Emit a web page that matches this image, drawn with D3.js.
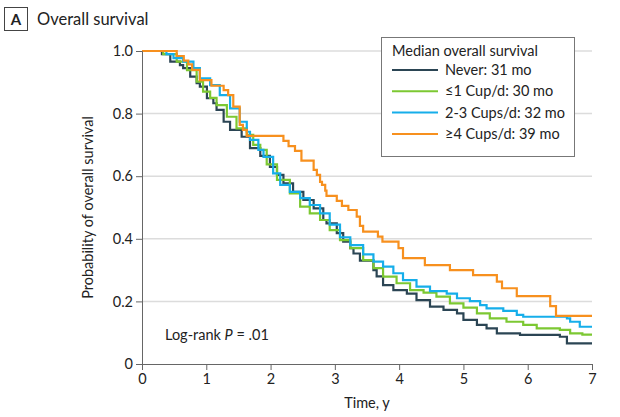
<!DOCTYPE html>
<html>
<head>
<meta charset="utf-8">
<script src="https://cdn.jsdelivr.net/npm/d3@7"></script>
<style>
  body { margin: 0; background: #fff; }
  svg text { font-family: Lato, "Noto Sans", sans-serif; fill: #222; }
</style>
</head>
<body>
<script>
// Kaplan-Meier curves: [time in years, survival after step]
var never = [[0,1],[0.31,0.99],[0.44,0.966],[0.59,0.955],[0.64,0.945],[0.75,0.918],[0.85,0.897],[0.9,0.886],
  [1.01,0.849],[1.11,0.833],[1.16,0.812],[1.27,0.774],[1.37,0.748],[1.55,0.726],[1.68,0.69],[1.84,0.665],
  [1.99,0.63],[2.1,0.604],[2.2,0.577],[2.35,0.55],[2.51,0.524],[2.67,0.497],[2.82,0.46],[2.87,0.449],
  [3.03,0.418],[3.13,0.391],[3.24,0.37],[3.29,0.353],[3.39,0.33],[3.6,0.3],[3.65,0.28],[3.75,0.252],
  [3.91,0.236],[4.12,0.225],[4.27,0.204],[4.48,0.183],[4.69,0.173],[4.9,0.162],[5.0,0.141],[5.21,0.125],
  [5.36,0.114],[5.52,0.098],[5.88,0.093],[6.5,0.087],[6.61,0.066],[7,0.066]];

var upTo1 = [[0,1],[0.33,0.99],[0.54,0.966],[0.7,0.939],[0.85,0.902],[0.95,0.87],[1.06,0.85],[1.16,0.827],
  [1.32,0.79],[1.47,0.753],[1.63,0.732],[1.73,0.7],[1.84,0.684],[1.94,0.638],[2.1,0.588],[2.3,0.545],
  [2.46,0.503],[2.61,0.481],[2.77,0.46],[2.92,0.428],[3.08,0.396],[3.24,0.37],[3.44,0.332],[3.6,0.306],
  [3.75,0.279],[3.96,0.258],[4.17,0.236],[4.38,0.228],[4.58,0.215],[4.79,0.194],[5.0,0.18],[5.21,0.162],
  [5.41,0.146],[5.67,0.135],[5.93,0.125],[6.14,0.114],[6.5,0.109],[6.66,0.098],[6.85,0.094],[7,0.094]];

var cups2to3 = [[0,1],[0.38,0.99],[0.49,0.977],[0.64,0.966],[0.8,0.945],[0.9,0.913],[1.06,0.891],[1.21,0.859],
  [1.37,0.817],[1.52,0.774],[1.63,0.742],[1.68,0.716],[1.81,0.684],[1.89,0.662],[2.04,0.609],[2.15,0.572],
  [2.3,0.55],[2.46,0.53],[2.61,0.508],[2.77,0.481],[2.92,0.445],[3.08,0.405],[3.24,0.38],[3.44,0.35],
  [3.6,0.327],[3.75,0.311],[3.91,0.29],[4.06,0.268],[4.27,0.247],[4.48,0.233],[4.74,0.225],[4.9,0.21],
  [5.1,0.201],[5.26,0.188],[5.36,0.178],[5.62,0.17],[5.83,0.157],[5.93,0.151],[6.61,0.146],[6.66,0.135],
  [6.81,0.119],[7,0.119]];

var cups4 = [[0,1],[0.54,0.984],[0.65,0.969],[0.72,0.957],[0.78,0.94],[0.9,0.907],[1.08,0.889],[1.27,0.875],
  [1.34,0.859],[1.42,0.822],[1.52,0.764],[1.57,0.748],[1.63,0.729],[2.2,0.713],[2.28,0.696],[2.38,0.681],
  [2.48,0.65],[2.67,0.62],[2.72,0.604],[2.77,0.582],[2.8,0.572],[2.85,0.554],[2.87,0.537],[3.03,0.521],
  [3.11,0.505],[3.21,0.492],[3.34,0.471],[3.39,0.441],[3.44,0.423],[3.67,0.407],[3.74,0.391],[3.99,0.37],
  [4.06,0.338],[4.4,0.316],[4.79,0.3],[5.15,0.284],[5.52,0.263],[5.6,0.242],[5.83,0.217],[6.35,0.185],
  [6.44,0.154],[7,0.154]];

var groupNames = ["Never: 31 mo", "\u22641 Cup/d: 30 mo", "2-3 Cups/d: 32 mo", "\u22654 Cups/d: 39 mo"];
var groupColors = ["#2b4554", "#7cc832", "#16aeea", "#f7901e"];
var xTicks = [0, 1, 2, 3, 4, 5, 6, 7];
var yTicks = [0, 0.2, 0.4, 0.6, 0.8, 1.0];

var svgWidth = 620;
var svgHeight = 417;
var margin = { top: 51, right: 28, bottom: 53, left: 142 };
var chartWidth = svgWidth - margin.left - margin.right;
var chartHeight = svgHeight - margin.top - margin.bottom;

var svg = d3.select("body").append("svg")
  .attr("width", svgWidth)
  .attr("height", svgHeight);

// panel label
svg.append("rect")
  .attr("x", 4.5).attr("y", 7.5).attr("width", 23).attr("height", 23)
  .attr("fill", "none").attr("stroke", "#444").attr("stroke-width", 1);
svg.append("text")
  .attr("x", 16).attr("y", 25).attr("text-anchor", "middle")
  .style("font-size", "15px").style("font-weight", "bold")
  .text("A");
svg.append("text")
  .attr("x", 37).attr("y", 25)
  .style("font-size", "16.5px")
  .text("Overall survival");

var chartGroup = svg.append("g")
  .attr("transform", `translate(${margin.left}, ${margin.top})`);

var xScale = d3.scaleLinear().domain([0, 7]).range([0, chartWidth]);
var yScale = d3.scaleLinear().domain([0, 1]).range([chartHeight, 0]);

// gridlines
chartGroup.selectAll(".grid")
  .data(yTicks.filter(d => d > 0))
  .enter().append("line")
  .attr("x1", 0).attr("x2", chartWidth)
  .attr("y1", d => yScale(d)).attr("y2", d => yScale(d))
  .attr("stroke", "#dcdcdc").attr("stroke-width", 1.5);

// curves
var drawLine = d3.line()
  .x(d => xScale(d[0]))
  .y(d => yScale(d[1]))
  .curve(d3.curveStepAfter);

var series = [never, upTo1, cups2to3, cups4];
series.forEach(function(s, i) {
  chartGroup.append("path")
    .attr("d", drawLine(s))
    .attr("fill", "none")
    .attr("stroke", groupColors[i])
    .attr("stroke-width", 2.2);
});

// axes
var leftAxis = d3.axisLeft(yScale).tickValues(yTicks)
  .tickFormat(d => d === 0 ? "0" : d3.format(".1f")(d)).tickSize(6).tickPadding(3);
var bottomAxis = d3.axisBottom(xScale).tickValues(xTicks)
  .tickFormat(d3.format("d")).tickSize(6).tickPadding(4);

var gy = chartGroup.append("g").call(leftAxis);
var gx = chartGroup.append("g")
  .attr("transform", "translate(0, " + chartHeight + ")")
  .call(bottomAxis);
[gx, gy].forEach(function(g) {
  g.select(".domain").attr("stroke", "#666");
  g.selectAll(".tick line").attr("stroke", "#666");
  g.selectAll(".tick text").style("font-size", "14.5px").style("font-family", "Lato, sans-serif").attr("fill", "#333");
});

// axis titles
svg.append("text")
  .attr("x", margin.left + chartWidth / 2).attr("y", 408)
  .attr("text-anchor", "middle")
  .style("font-size", "14.5px")
  .text("Time, y");
svg.append("text")
  .attr("transform", "translate(93, " + (margin.top + chartHeight / 2) + ") rotate(-90)")
  .attr("text-anchor", "middle")
  .style("font-size", "14.5px")
  .text("Probability of overall survival");

// log-rank annotation
var lr = svg.append("text")
  .attr("x", 165).attr("y", 340)
  .style("font-size", "14.5px");
lr.append("tspan").text("Log-rank ");
lr.append("tspan").style("font-style", "italic").text("P");
lr.append("tspan").text(" = .01");

// legend
var legend = svg.append("g");
legend.append("rect")
  .attr("x", 381.5).attr("y", 37.5).attr("width", 193).attr("height", 119)
  .attr("fill", "#fff").attr("stroke", "#777").attr("stroke-width", 1);
legend.append("text")
  .attr("x", 392).attr("y", 56)
  .style("font-size", "14.5px")
  .text("Median overall survival");
groupNames.forEach(function(name, i) {
  var y = 70 + i * 21.3;
  legend.append("line")
    .attr("x1", 392).attr("x2", 438)
    .attr("y1", y).attr("y2", y)
    .attr("stroke", groupColors[i]).attr("stroke-width", 2);
  legend.append("text")
    .attr("x", 445).attr("y", y + 5)
    .style("font-size", "14.5px")
    .text(name);
});
</script>
</body>
</html>
